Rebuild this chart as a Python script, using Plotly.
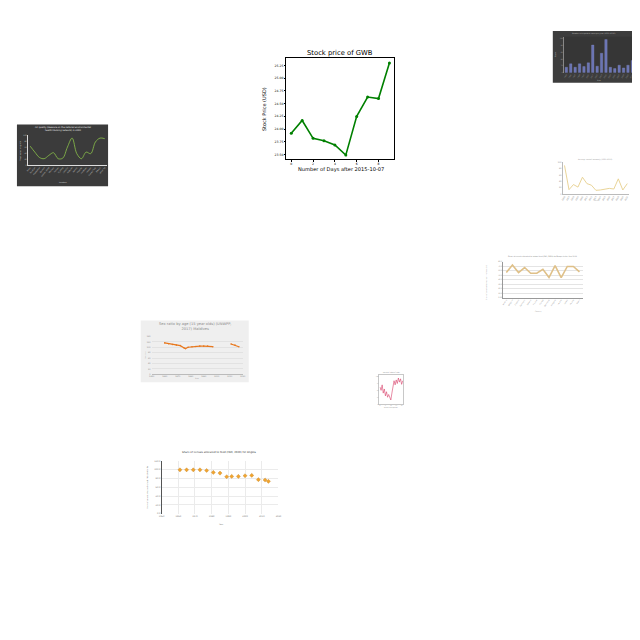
import plotly.graph_objects as go

# ---------------- data ----------------
days = list(range(10))
gwb_price = [23.92, 24.17, 23.82, 23.77, 23.69, 23.49, 24.25, 24.63, 24.60, 25.30]
gwb_yticks = [23.50, 23.75, 24.00, 24.25, 24.50, 24.75, 25.00, 25.25]
gwb_xticks = [0, 2, 4, 6, 8]

bar_years = list(range(1995, 2011))
bar_values = [16, 26, 16, 26, 18, 29, 81, 19, 57, 97, 16, 12, 22, 14, 22, 36]

air_labels = ["Bronx", "Brooklyn", "Manhattan", "Queens", "Staten Island", "Chelsea", "Harlem",
              "Flushing", "Jamaica", "Midtown", "Astoria", "Bayside", "Fordham", "Pelham",
              "Sunset Park", "Tribeca", "Union Sq"]
air_values = [64, 44, 26, 22, 33, 42, 22, 24, 61, 91, 39, 22, 44, 39, 78, 91, 89]

small_years = list(range(1996, 2011))
small_values = [90, 14, 30, 22, 53, 33, 28, 12, 13, 15, 18, 16, 48, 13, 33]

feed_countries = ["Austria", "Belgium", "Croatia", "Denmark", "Estonia", "Finland", "France",
                  "Germany", "Hungary", "Ireland", "Latvia", "Poland", "Spain"]
feed_values = [70, 91, 70, 84, 68, 68, 79, 56, 89, 56, 87, 87, 72]

sex_years = [1960, 1963, 1966, 1969, 1972, 1975, 1976, 1978, 1981, 1984, 1987, 1990, 1993, 1997,
             2004, 2011, 2014, 2017]
sex_ratio = [116, 113, 110, 108, 106, 97, 95, 100, 102, 103, 104, 104, 104, 102,
             None, 112, 108, 102]

red_index = list(range(22))
red_values = [62, 50, 70, 40, 55, 30, 45, 25, 35, 20, 15, 40, 60, 85, 70, 88, 75, 95, 80, 92, 72, 85]

food_years = [1961, 1965, 1969, 1973, 1977, 1981, 1985, 1989, 1992, 1996, 2000, 2004, 2008, 2012, 2014]
food_values = [99.6, 99.6, 99.6, 99.6, 98.1, 93.6, 92.1, 83.9, 84.6, 84.6, 86.1, 86.9, 77.2, 76.4, 73.4]

# ---------------- helpers ----------------
# the page body keeps the browser's default 8px margin, so the figure is 632px
# and page coordinates are shifted by that margin
OFF = 8
S = 632
FONT = "DejaVu Sans"


def px(x):
    return (x - OFF) / S


def py(y):
    return 1 - (y - OFF) / S


def dx(a, b):
    return [px(a), px(b)]


def dy(top, bottom):
    return [py(bottom), py(top)]


annotations = []
shapes = []


def note(text, x, y, size, color="#000000", angle=0, **kw):
    annotations.append(dict(text=text, x=px(x), y=py(y), xref="paper", yref="paper",
                            showarrow=False, textangle=angle, xanchor="center", yanchor="middle",
                            font=dict(size=size, color=color, family=FONT), **kw))


def rect(x0, y0, x1, y1, fill, line=None):
    shapes.append(dict(type="rect", xref="paper", yref="paper", x0=px(x0), x1=px(x1),
                       y0=py(y1), y1=py(y0), fillcolor=fill, layer="below",
                       line=dict(width=0.6 if line else 0, color=line or fill)))


def axis(domain, anchor, rng=None, **kw):
    d = dict(domain=domain, anchor=anchor, showgrid=False, zeroline=False, ticks="",
             tickfont=dict(size=2, color="#888888", family=FONT), fixedrange=True,
             showline=False)
    if rng is not None:
        d["range"] = rng
    d.update(kw)
    return d


fig = go.Figure()
layout_axes = {}

# ---------------- main chart: Stock price of GWB ----------------
fig.add_trace(go.Scatter(x=days, y=gwb_price, mode="lines+markers", xaxis="x", yaxis="y",
                         line=dict(color="#008000", width=1.6),
                         marker=dict(color="#008000", size=3), showlegend=False))
frame = dict(showline=True, mirror=True, linecolor="#000000", linewidth=0.7,
             ticks="outside", ticklen=1.5, tickwidth=0.5, tickcolor="#000000",
             tickfont=dict(size=3.1, color="#000000", family=FONT))
layout_axes["xaxis"] = axis(dx(286, 395), "y", [-0.45, 9.45], tickmode="array",
                            tickvals=gwb_xticks, **frame)
layout_axes["yaxis"] = axis(dy(57.3, 159), "x", [23.408, 25.395], tickmode="array",
                            tickvals=gwb_yticks, ticktext=[f"{v:.2f}" for v in gwb_yticks], **frame)
note("Stock price of GWB", 340.5, 52, 6.8)
note("Number of Days after 2015-10-07", 341, 169.5, 5.1)
note("Stock Price (USD)", 263.5, 108.5, 5.0, angle=-90)

# ---------------- A: dark bar chart (top right) ----------------
rect(555, 30, 640, 82, "#3d3d3d")
rect(566, 36, 638, 72, "#363636")
fig.add_trace(go.Bar(x=bar_years, y=bar_values, xaxis="x2", yaxis="y2",
                     marker=dict(color="#6a74b4", line=dict(color="#8a93cc", width=0.3)),
                     showlegend=False, width=0.55))
layout_axes["xaxis2"] = axis(dx(566, 638), "y2", [1994.4, 2010.6], tickmode="array",
                             tickvals=bar_years, tickangle=-60,
                             tickfont=dict(size=1.6, color="#aaaaaa", family=FONT))
layout_axes["yaxis2"] = axis(dy(36, 72), "x2", [0, 105], tickmode="array",
                             tickvals=[0, 20, 40, 60, 80, 100], showline=True,
                             linecolor="#888888", linewidth=0.4,
                             tickfont=dict(size=1.6, color="#aaaaaa", family=FONT))
note("Number of reported cases per year (1995-2010)", 597, 33, 1.8, color="#bbbbbb")
note("Year", 602, 79.5, 1.8, color="#bbbbbb")
note("Cases", 558.5, 54, 1.8, color="#bbbbbb", angle=-90)

# ---------------- B: dark line chart (left) ----------------
rect(14, 124, 106, 186, "#3b3b3b")
fig.add_trace(go.Scatter(x=list(range(len(air_values))), y=air_values, xaxis="x3", yaxis="y3",
                         mode="lines", line=dict(color="#8bc34a", width=0.8, shape="spline"),
                         showlegend=False))
layout_axes["xaxis3"] = axis(dx(25, 105), "y3", [-0.5, 16.5], tickmode="array",
                             tickvals=list(range(len(air_labels))), ticktext=air_labels,
                             tickangle=-50, showline=True, linecolor="#dddddd", linewidth=0.5,
                             tickfont=dict(size=1.8, color="#cccccc", family=FONT))
layout_axes["yaxis3"] = axis(dy(135, 165), "x3", [0, 100], tickmode="array",
                             tickvals=[0, 20, 40, 60, 80, 100], showline=True,
                             linecolor="#dddddd", linewidth=0.5,
                             tickfont=dict(size=1.8, color="#cccccc", family=FONT))
note("Air quality (Measure on the national environmental<br>health tracking network) in 2000",
     60, 129, 2.2, color="#eeeeee")
note("Location", 60, 182.5, 1.8, color="#dddddd")
note("Mean value (mcg/m3)", 17.5, 150, 1.8, color="#dddddd", angle=-90)

# ---------------- C: small beige line (right) ----------------
fig.add_trace(go.Scatter(x=small_years, y=small_values, xaxis="x4", yaxis="y4", mode="lines",
                         line=dict(color="#e6cf8c", width=0.9), showlegend=False))
layout_axes["xaxis4"] = axis(dx(565, 632), "y4", [1995.6, 2010.4], tickmode="array",
                             tickvals=small_years, tickangle=-60, showline=True,
                             linecolor="#bbbbbb", linewidth=0.4)
layout_axes["yaxis4"] = axis(dy(162, 194), "x4", [0, 100], tickmode="array",
                             tickvals=[0, 20, 40, 60, 80, 100], showline=True,
                             linecolor="#bbbbbb", linewidth=0.4)
note("Average rainfall anomaly (1996-2010)", 598, 159.5, 1.8, color="#999999")
note("Year", 600, 200, 1.6, color="#999999")

# ---------------- D: tan line with grid (right middle) ----------------
fig.add_trace(go.Scatter(x=list(range(len(feed_values))), y=feed_values, xaxis="x5", yaxis="y5",
                         mode="lines", line=dict(color="#dfc088", width=1.6), showlegend=False))
layout_axes["xaxis5"] = axis(dx(505, 585), "y5", [-0.5, 12.5], tickmode="array",
                             tickvals=list(range(len(feed_countries))), ticktext=feed_countries,
                             tickangle=-55, showline=True, linecolor="#999999", linewidth=0.4,
                             tickfont=dict(size=1.8, color="#888888", family=FONT))
layout_axes["yaxis5"] = axis(dy(262, 298), "x5", [0, 100], tickmode="array",
                             tickvals=[0, 12.5, 25, 37.5, 50, 62.5, 75, 87.5, 100],
                             ticktext=["0.00", "10.0", "20.0", "30.0", "40.0", "50.0", "60.0",
                                       "70.0", "80.0"],
                             showgrid=True, gridcolor="#e4e4e4", gridwidth=0.4, showline=True,
                             linecolor="#999999", linewidth=0.4,
                             tickfont=dict(size=1.8, color="#888888", family=FONT))
note("Share of cereals allocated to animal feed (FAO, 2020) for Europe in the Year 1990",
     545, 257, 1.7, color="#777777")
note("Share of cereals allocated to animal feed (%)", 488.5, 283, 1.5, color="#888888",
     angle=-90)
note("Country", 540, 312, 1.6, color="#888888")

# ---------------- E: sex ratio (grey panel) ----------------
rect(139, 321, 248, 383, "#efefef")
fig.add_trace(go.Scatter(x=sex_years, y=sex_ratio, xaxis="x6", yaxis="y6", mode="lines+markers",
                         line=dict(color="#e8781e", width=1.2), connectgaps=False,
                         marker=dict(color="#e8781e", size=1.6), showlegend=False))
layout_axes["xaxis6"] = axis(dx(150, 242), "y6", [1950, 2020], tickmode="array",
                             tickvals=[1950, 1960, 1970, 1980, 1990, 2000, 2010, 2020],
                             showline=True, linecolor="#bbbbbb", linewidth=0.4)
layout_axes["yaxis6"] = axis(dy(337, 375), "x6", [0, 140], tickmode="array",
                             tickvals=[0, 20, 40, 60, 80, 100, 120, 140], showgrid=True,
                             gridcolor="#e2e2e2", gridwidth=0.4)
note("Sex ratio by age (15 year olds) (UNWPP,<br>2017) Maldives", 193.5, 327.5, 3.6,
     color="#8a8a8a")
note("Year", 196, 379.5, 1.8, color="#999999")
note("Sex ratio", 143.5, 356, 1.6, color="#999999", angle=-90)

# ---------------- F: small red line ----------------
fig.add_trace(go.Scatter(x=red_index, y=red_values, xaxis="x7", yaxis="y7", mode="lines",
                         line=dict(color="#d8406a", width=0.6), showlegend=False))
layout_axes["xaxis7"] = axis(dx(380, 404), "y7", [-0.5, 21.5], tickmode="array",
                             tickvals=[0, 5, 10, 15, 20], showline=True, mirror=True,
                             linecolor="#c8c8c8", linewidth=0.4,
                             tickfont=dict(size=1.4, color="#999999", family=FONT))
layout_axes["yaxis7"] = axis(dy(376, 405), "x7", [0, 105], tickmode="array",
                             tickvals=[0, 25, 50, 75, 100], showline=True, mirror=True,
                             linecolor="#c8c8c8", linewidth=0.4,
                             tickfont=dict(size=1.4, color="#999999", family=FONT))
note("Monthly index of sales", 392, 373.5, 1.5, color="#666666")
note("Months since January", 392, 409, 1.3, color="#888888")

# ---------------- G: Angola scatter ----------------
fig.add_trace(go.Scatter(x=food_years, y=food_values, xaxis="x8", yaxis="y8", mode="markers",
                         marker=dict(color="#f0a431", size=3.2, symbol="diamond",
                                     line=dict(color="#b87a1c", width=0.3)), showlegend=False))
layout_axes["xaxis8"] = axis(dx(160, 278), "y8", [1950, 2020], tickmode="array",
                             tickvals=[1950, 1960, 1970, 1980, 1990, 2000, 2010, 2020],
                             showgrid=True, gridcolor="#ebebeb", gridwidth=0.4,
                             tickfont=dict(size=2.2, color="#777777", family=FONT))
layout_axes["yaxis8"] = axis(dy(462, 515), "x8", [0, 120], tickmode="array",
                             tickvals=[0, 20, 40, 60, 80, 100, 120],
                             ticktext=["0.0", "20.0", "40.0", "60.0", "80.0", "100.0", "120.0"],
                             showgrid=True, gridcolor="#ebebeb", gridwidth=0.4, showline=True,
                             linecolor="#555555", linewidth=0.4,
                             tickfont=dict(size=2.2, color="#777777", family=FONT))
note("Share of cereals allocated to food (FAO, 2020) for Angola", 218, 454, 2.6,
     color="#333333")
note("Year", 220, 526, 2.0, color="#777777")
note("Share of cereals allocated to food (FAO, 2020) (%)", 146, 488, 1.7, color="#555555",
     angle=-90)

fig.update_layout(width=S, height=S, autosize=False,
                  margin=dict(l=0, r=0, t=0, b=0, pad=0),
                  paper_bgcolor="#ffffff", plot_bgcolor="rgba(0,0,0,0)",
                  font=dict(family=FONT), showlegend=False,
                  annotations=annotations, shapes=shapes, bargap=0.4, **layout_axes)

fig.write_html("out.html")
